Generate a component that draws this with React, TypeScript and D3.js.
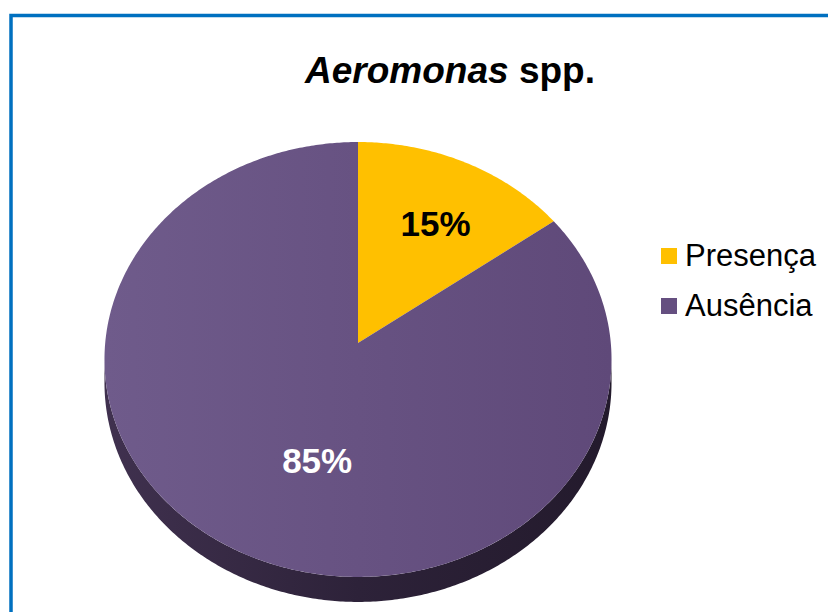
import { useMemo } from 'react';
import * as d3 from 'd3';

// chart data
const categories = ['Presença', 'Ausência'];
const values = [15, 85];
const colors = ['#FFC000', '#654F80'];
const labelColors = ['#000000', '#ffffff'];

// label placement (fraction of radius, angle nudge in degrees)
const labelRadius = [0.66, 0.546];
const labelNudge = [2, -10.5];

const W = 828;
const H = 612;

// perspective pie geometry
const cx = 358;
const cy = 343;
const rx = 252.8;
const ry = 216.2;
const persp = 0.0758;
const depth = 23.1;

const proj = (a: number, r = 1, drop = 0): [number, number] => {
  const den = 1 + persp * r * Math.cos(a);
  return [cx + (rx * r * Math.sin(a)) / den, cy + (-ry * r * Math.cos(a) + drop) / den];
};

const arcPts = (a0: number, a1: number, drop = 0) => {
  const n = Math.max(2, Math.ceil(Math.abs(a1 - a0) / 0.01));
  return d3.range(n + 1).map(i => proj(a0 + ((a1 - a0) * i) / n, 1, drop));
};

const line = d3.line();
const font = "'Liberation Sans', Arial, sans-serif";

export default function App() {
  const slices = useMemo(
    () => d3.pie<number>().sort(null).startAngle(0).endAngle(2 * Math.PI)(values),
    []
  );

  // front side wall, visible where cos(a) < -persp
  const tA = Math.acos(-persp);
  const sideTop = arcPts(tA, 2 * Math.PI - tA);
  const sideBot = arcPts(2 * Math.PI - tA, tA, depth);
  const sidePath = line([...sideTop, ...sideBot]) + 'Z';

  return (
    <svg width={W} height={H} style={{ position: 'absolute', left: 0, top: 0, background: '#fff' }}>
      <defs>
        <linearGradient id="side" x1="0" x2="1" y1="0" y2="0">
          <stop offset="0" stopColor="#40314f" />
          <stop offset="0.5" stopColor="#2d2239" />
          <stop offset="1" stopColor="#231a2c" />
        </linearGradient>
        <linearGradient id="topP" x1="0" x2="1" y1="0" y2="0">
          <stop offset="0" stopColor="#6f5b8b" />
          <stop offset="1" stopColor="#5f4979" />
        </linearGradient>
      </defs>
      <rect x={11} y={15.5} width={W + 20} height={H + 20} fill="none" stroke="#0070C0" strokeWidth={3.5} />

      <text x={450} y={83} textAnchor="middle" fontFamily={font} fontWeight="bold" fontSize={37}>
        <tspan fontStyle="italic">Aeromonas</tspan> spp.
      </text>

      <path d={sidePath} fill="url(#side)" />
      {slices.map((s, i) => {
        const pts = [proj(0, 0), ...arcPts(s.startAngle, s.endAngle)];
        return (
          <path key={categories[i]} d={line(pts) + 'Z'} fill={i === 1 ? 'url(#topP)' : colors[i]} />
        );
      })}
      {slices.map((s, i) => {
        const mid = (s.startAngle + s.endAngle) / 2 + (labelNudge[i] * Math.PI) / 180;
        const [lx, ly] = proj(mid, labelRadius[i]);
        return (
          <text
            key={'l' + i}
            x={lx}
            y={ly}
            dy="0.36em"
            textAnchor="middle"
            fontFamily={font}
            fontWeight="bold"
            fontSize={35}
            fill={labelColors[i]}
          >
            {values[i]}%
          </text>
        );
      })}

      {categories.map((c, i) => (
        <g key={c} transform={`translate(661,${248 + i * 50})`}>
          <rect width={16} height={16} fill={colors[i]} />
          <text x={24} y={18} fontFamily={font} fontSize={31} fill="#000">
            {c}
          </text>
        </g>
      ))}
    </svg>
  );
}
